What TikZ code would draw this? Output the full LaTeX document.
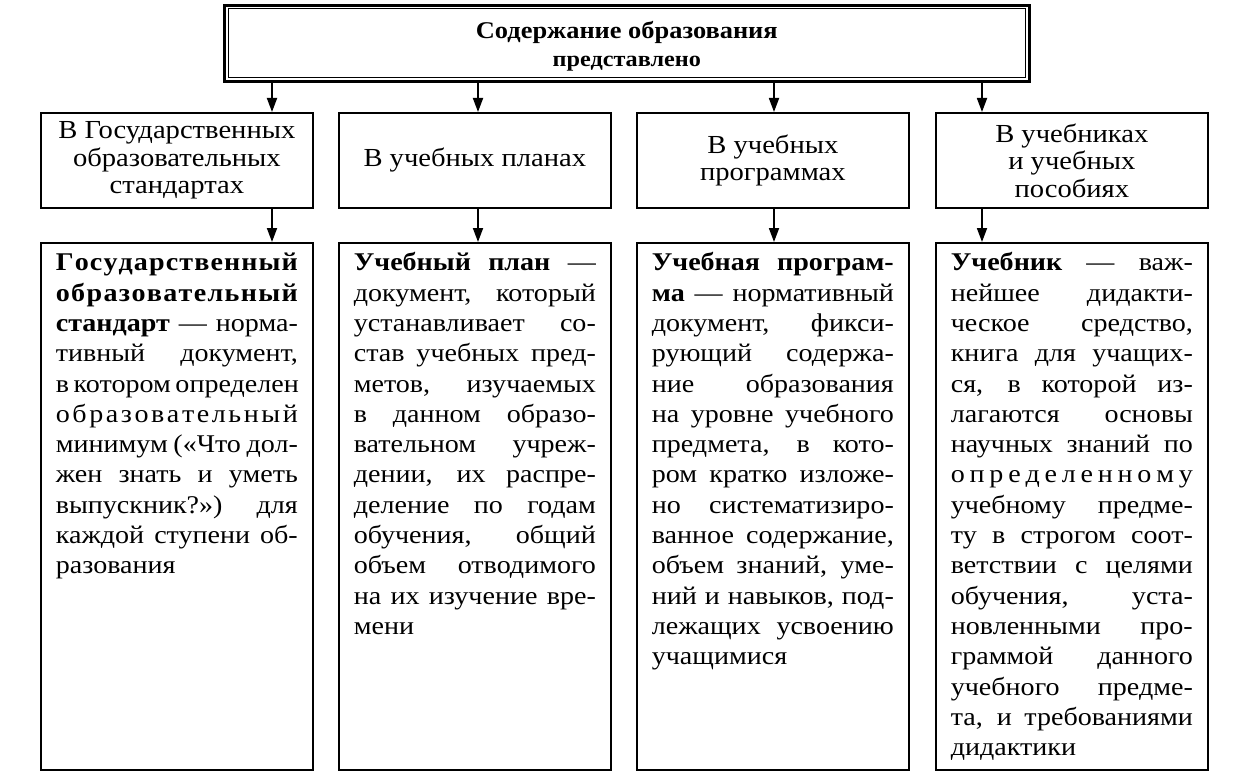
\documentclass[tikz,border=0pt]{standalone}
\usepackage{fontspec}
\setmainfont{Liberation Serif}[FakeStretch=1.1]
\usetikzlibrary{arrows.meta}
\makeatletter
\def\sprd@#1{\ifx#1\@nil\unskip\else#1\hskip0pt plus1fil\relax\expandafter\sprd@\fi}
\newcommand\sline[1]{\hbox to\linewidth{\sprd@#1\@nil}}
\newcommand\bsline[1]{\hbox to\linewidth{\bfseries\sprd@#1\@nil}}
\makeatother
\newcommand\jline[1]{\hbox to\linewidth{#1}}
\newcommand\lline[1]{\hbox{#1}}
\newcommand\bodytext[1]{\parbox[t][527pt][t]{242pt}{\fontsize{25.5}{30.3}\selectfont\hbox{}\vskip-2.3pt #1}}
\begin{document}
\begin{tikzpicture}[x=1pt,y=-1pt,
  frame/.style={draw, line width=1.7pt, inner sep=0pt, anchor=north west},
  headbox/.style={frame, minimum width=272pt, minimum height=95pt, align=center,
    font=\fontsize{26}{27.5}\selectfont},
  lowbox/.style={frame, inner xsep=15pt, inner ysep=0pt},
  arr/.style={line width=1.8pt, -{Triangle[length=14pt,width=10pt]}},
]
\useasboundingbox[fill=white] (0,0) rectangle (1236,781);

\node[draw, line width=2.6pt, minimum width=805pt, minimum height=76pt,
  anchor=north west, inner sep=0pt] (top) at (223,4) {};
\draw[line width=1pt] ([xshift=5pt,yshift=-5pt]top.north west)
  rectangle ([xshift=-5pt,yshift=5pt]top.south east);
\node[align=center, inner sep=0pt, font=\fontsize{24}{28}\selectfont\bfseries]
  (toptitle) at ([yshift=-3pt]top.center)
  {Содержание образования\\
   {\fontsize{22}{28}\selectfont представлено}};

\node[headbox] (b1) at (40,112) {В Государственных\\образовательных\\стандартах};
\node[headbox] (b2) at (338,112) {В учебных планах};
\node[headbox] (b3) at (636,112) {В учебных\\программах};
\node[headbox] (b4) at (935,112) {В учебниках\\и учебных\\пособиях};

\node[lowbox] (c1) at (40,242) {\bodytext{
\bsline{Государственный}
\bsline{образовательный}
\jline{\textbf{стандарт} — норма-}
\jline{тивный документ,}
\jline{в котором определен}
\sline{образовательный}
\jline{минимум («Что дол-}
\jline{жен знать и уметь}
\jline{выпускник?») для}
\jline{каждой ступени об-}
\lline{разования}
}};

\node[lowbox] (c2) at (338,242) {\bodytext{
\jline{\textbf{Учебный план} —}
\jline{документ, который}
\jline{устанавливает со-}
\jline{став учебных пред-}
\jline{метов, изучаемых}
\jline{в данном образо-}
\jline{вательном учреж-}
\jline{дении, их распре-}
\jline{деление по годам}
\jline{обучения, общий}
\jline{объем отводимого}
\jline{на их изучение вре-}
\lline{мени}
}};

\node[lowbox] (c3) at (636,242) {\bodytext{
\jline{\bfseries Учебная програм-}
\jline{\textbf{ма} — нормативный}
\jline{документ, фикси-}
\jline{рующий содержа-}
\jline{ние образования}
\jline{на уровне учебного}
\jline{предмета, в кото-}
\jline{ром кратко изложе-}
\jline{но систематизиро-}
\jline{ванное содержание,}
\jline{объем знаний, уме-}
\jline{ний и навыков, под-}
\jline{лежащих усвоению}
\lline{учащимися}
}};

\node[lowbox] (c4) at (935,242) {\bodytext{
\jline{\textbf{Учебник} — важ-}
\jline{нейшее дидакти-}
\jline{ческое средство,}
\jline{книга для учащих-}
\jline{ся, в которой из-}
\jline{лагаются основы}
\jline{научных знаний по}
\sline{определенному}
\jline{учебному предме-}
\jline{ту в строгом соот-}
\jline{ветствии с целями}
\jline{обучения, уста-}
\jline{новленными про-}
\jline{граммой данного}
\jline{учебного предме-}
\jline{та, и требованиями}
\lline{дидактики}
}};

\coordinate (x1) at (272,0);
\coordinate (x2) at (478,0);
\coordinate (x3) at (774,0);
\coordinate (x4) at (982,0);
\foreach \i in {1,2,3,4} {
  \draw[arr] (top.south -| x\i) -- (b\i.north -| x\i);
  \draw[arr] (b\i.south -| x\i) -- (c\i.north -| x\i);
}
\end{tikzpicture}
\end{document}
